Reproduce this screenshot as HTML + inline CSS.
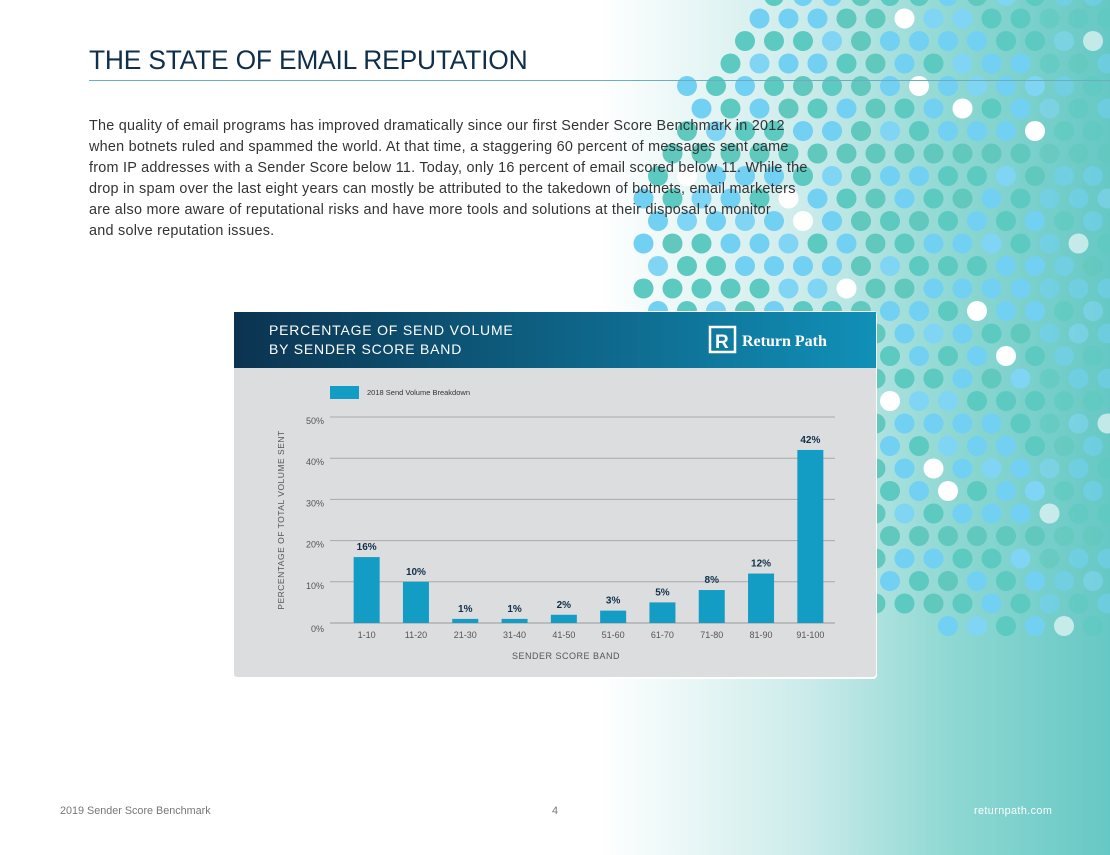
<!DOCTYPE html>
<html><head><meta charset="utf-8">
<style>
body{margin:0;width:1110px;height:855px;overflow:hidden;position:relative;background:#fff;font-family:"Liberation Sans",sans-serif}
#bg{position:absolute;left:0;top:0;width:1110px;height:855px;background:linear-gradient(90deg,#fff 0,#fff 600px,#cdeceb 800px,#8fd8d3 950px,#66c8c4 1110px)}
#dots{position:absolute;left:0;top:0}
h1{position:absolute;left:89px;top:45px;margin:0;font-size:26.4px;font-weight:normal;color:#0f2f4a;letter-spacing:-0.2px;white-space:nowrap}
#rule{position:absolute;left:89px;top:80px;width:1021px;height:1px;background:#6aaec0}
#intro{position:absolute;left:89px;top:116px;width:760px;font-size:14.4px;letter-spacing:0.25px;line-height:21px;color:#333;white-space:nowrap}
.foot{position:absolute;top:805px;font-size:10.8px;color:#777}
</style></head><body>
<div id="bg"></div>
<svg id="dots" width="1110" height="855"></svg>
<h1>THE STATE OF EMAIL REPUTATION</h1>
<div id="rule"></div>
<div id="intro">The quality of email programs has improved dramatically since our first Sender Score Benchmark in 2012<br>when botnets ruled and spammed the world. At that time, a staggering 60 percent of messages sent came<br>from IP addresses with a Sender Score below 11. Today, only 16 percent of email scored below 11. While the<br>drop in spam over the last eight years can mostly be attributed to the takedown of botnets, email marketers<br>are also more aware of reputational risks and have more tools and solutions at their disposal to monitor<br>and solve reputation issues.</div>
<svg id="chart" width="1110" height="855" style="position:absolute;left:0;top:0"></svg>
<div class="foot" style="left:60px">2019 Sender Score Benchmark</div>
<div class="foot" style="left:552px">4</div>
<div class="foot" style="left:974px;color:#fff;letter-spacing:0.4px">returnpath.com</div>
<script>
const categories=["1-10","11-20","21-30","31-40","41-50","51-60","61-70","71-80","81-90","91-100"];
const values=[16,10,1,1,2,3,5,8,12,42];
const valueLabels=["16%","10%","1%","1%","2%","3%","5%","8%","12%","42%"];
const yTicks=[0,10,20,30,40,50];
const NS="http://www.w3.org/2000/svg";
function mk(p,t,a,txt){const e=document.createElementNS(NS,t);for(const k in a)e.setAttribute(k,a[k]);if(txt!==undefined)e.textContent=txt;p.appendChild(e);return e;}
const D=document.getElementById('dots');
const cols=["#72d0f2","#5ccac0","#80d5f4","#ffffff","#60c8bd"];
for(let r=0;r<34;r++){for(let c=0;c<22;c++){
 const x=600+c*29+(r%2?14.5:0), y=-4+r*22.5;
 const dx=(x-1060)/430, dy=(y-270)/370;
 if(dx*dx+dy*dy>1) continue;
 const h=(r*7+c*13+r*c*3)%17;
 const col=h<7?cols[0]:h<12?cols[1]:h<14?cols[2]:h<15?cols[3]:cols[4];
 const circ=mk(D,'circle',{cx:x,cy:y,r:10,fill:col,opacity:x>1040?0.6:1});
 
 
}}
const S=document.getElementById('chart');
const defs=mk(S,'defs',{});
const g=mk(defs,'linearGradient',{id:'hg',x1:0,x2:1,y1:0,y2:0});
mk(g,'stop',{offset:0,'stop-color':'#0b3350'});mk(g,'stop',{offset:1,'stop-color':'#1190b8'});
const panel=mk(S,'rect',{x:233,y:311,width:644,height:368,rx:4,fill:'#fff'});

mk(S,'rect',{x:234,y:312,width:642,height:365,rx:3,fill:'#dcdddf'});
const hdr=mk(S,'rect',{x:234,y:312,width:642,height:56,fill:'url(#hg)'});

const t1=mk(S,'text',{x:269,y:335,fill:'#fff','font-size':14,'letter-spacing':'0.8'},'PERCENTAGE OF SEND VOLUME');

mk(S,'text',{x:269,y:354,fill:'#fff','font-size':14,'letter-spacing':'0.8'},'BY SENDER SCORE BAND');
const logo=mk(S,'g',{});
mk(logo,'rect',{x:710,y:327,width:25,height:25,fill:'none',stroke:'#fff','stroke-width':2.5});
mk(logo,'text',{x:715,y:348,fill:'#fff','font-size':19,'font-weight':'bold'},'R');
mk(logo,'text',{x:742,y:346,fill:'#fff','font-size':16,'font-weight':'bold','font-family':'Liberation Serif,serif'},'Return Path');
const lg=mk(S,'rect',{x:330,y:386,width:29,height:13,fill:'#139cc4'});

const lt=mk(S,'text',{x:367,y:395,fill:'#333','font-size':7.5},'2018 Send Volume Breakdown');

const x0=342,x1=835,y0=623,yTop=417;
const yScale=v=>y0-(v/50)*(y0-yTop);
const step=(x1-x0)/categories.length;
const xC=i=>x0+step*(i+0.5);
yTicks.forEach(v=>{
 const l=mk(S,'line',{x1:x0-12,x2:x1,y1:yScale(v),y2:yScale(v),stroke:v===0?'#999':'#aaa','stroke-width':1});
 
 const t=mk(S,'text',{x:324,y:yScale(v)+(v===0?9:7),fill:'#555','font-size':9,'text-anchor':'end'},v+'%');
 
});
values.forEach((v,i)=>{
 const b=mk(S,'rect',{x:xC(i)-13,y:yScale(v),width:26,height:y0-yScale(v),fill:'#139cc4'});
 
 const vl=mk(S,'text',{x:xC(i),y:yScale(v)-7,fill:'#0f2f4a','font-size':10,'font-weight':'bold','text-anchor':'middle'},valueLabels[i]);
 
 const xl=mk(S,'text',{x:xC(i),y:638,fill:'#555','font-size':9,'text-anchor':'middle'},categories[i]);
 
});
const xt=mk(S,'text',{x:566,y:659,fill:'#555','font-size':9,'text-anchor':'middle','letter-spacing':'0.5'},'SENDER SCORE BAND');

const yt=mk(S,'text',{x:0,y:0,fill:'#555','font-size':8.5,'text-anchor':'middle','letter-spacing':'0.5',transform:'translate(284,520) rotate(-90)'},'PERCENTAGE OF TOTAL VOLUME SENT');

</script>
</body></html>
